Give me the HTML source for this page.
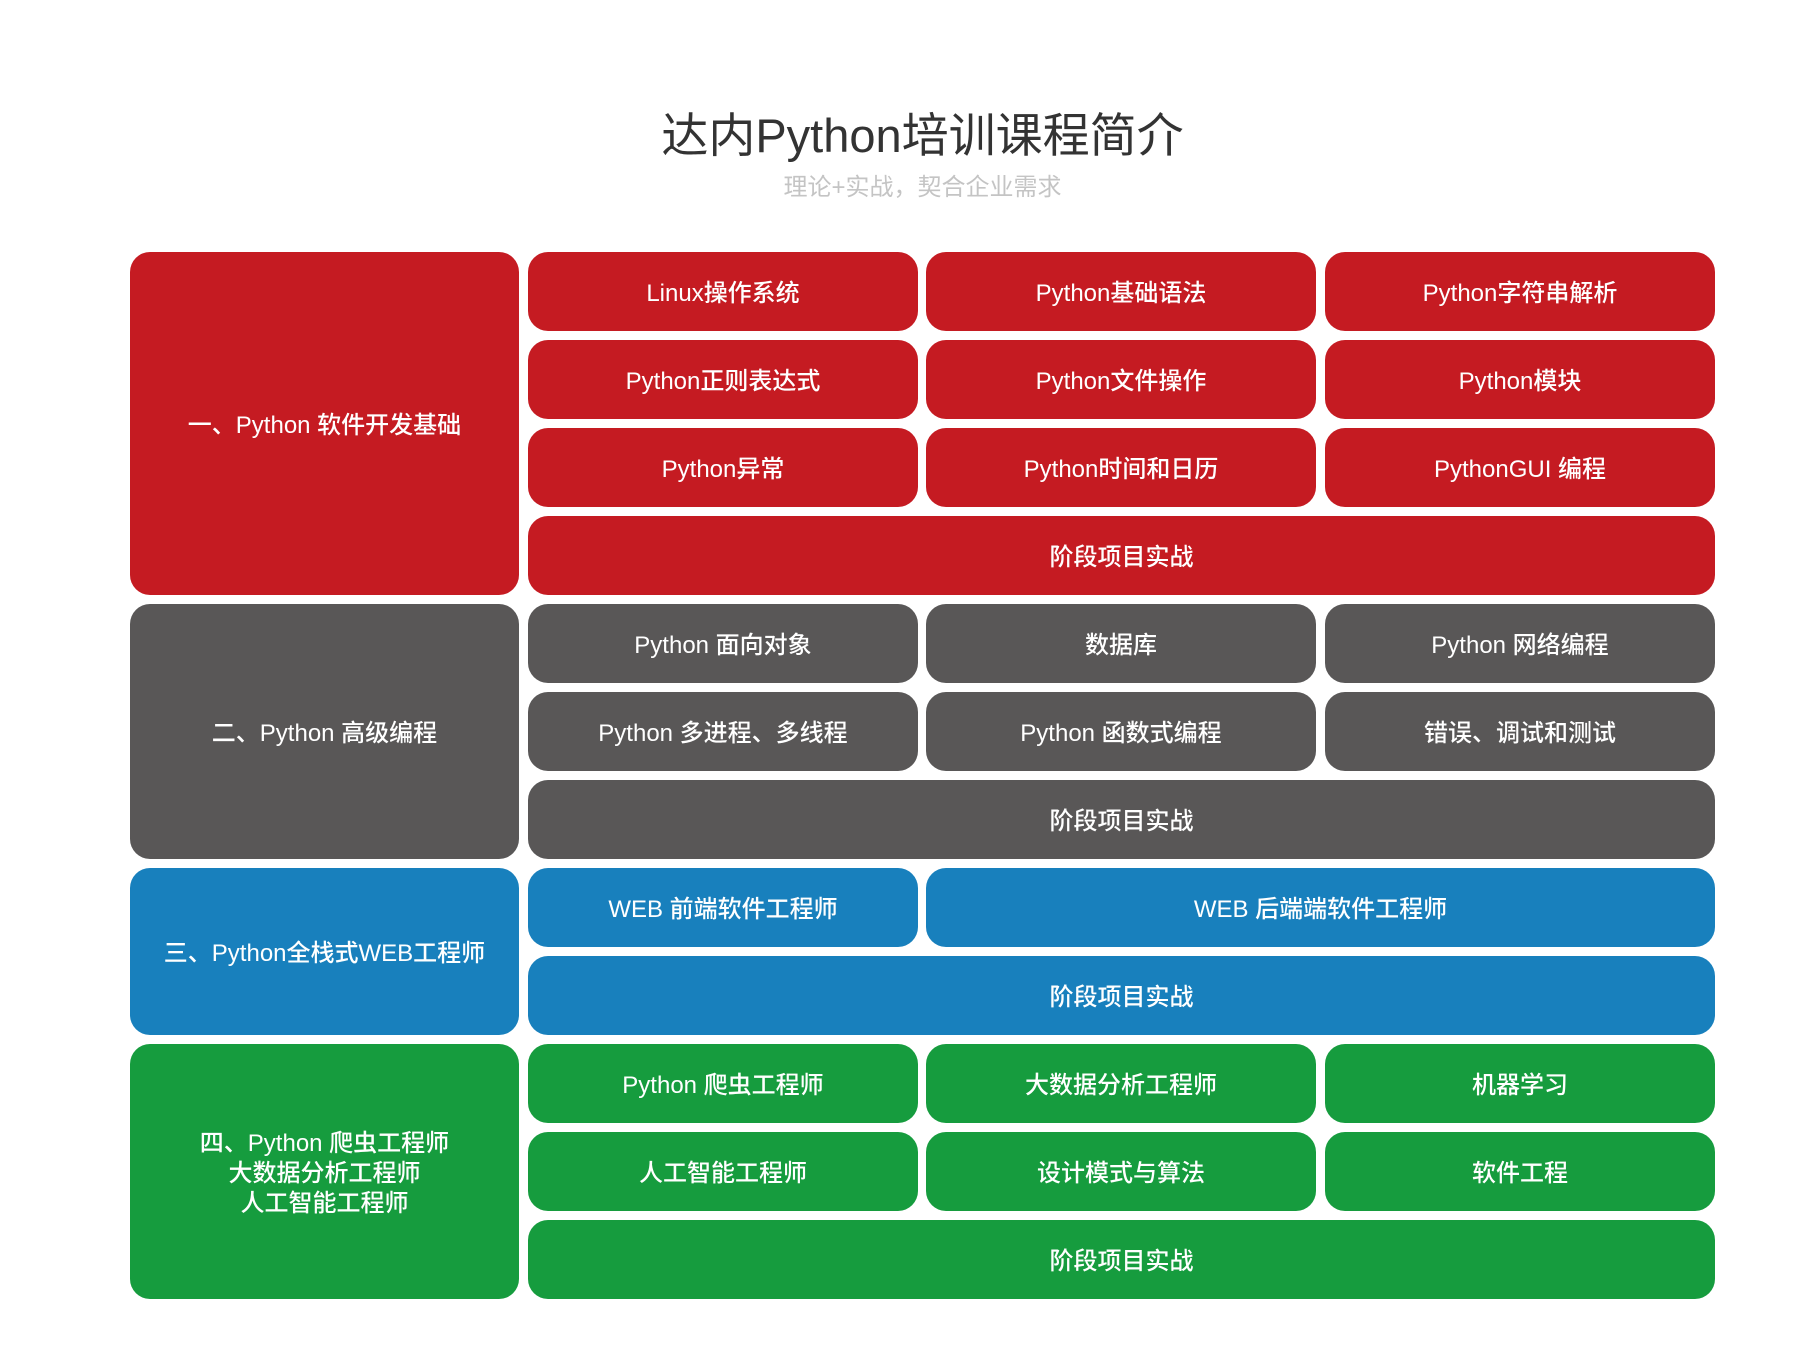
<!DOCTYPE html>
<html><head><meta charset="utf-8"><style>
body{margin:0;width:1820px;height:1362px;background:#fff;position:relative;overflow:hidden;font-family:"Liberation Sans","Noto Sans CJK SC",sans-serif;}
.t{position:absolute;left:0;width:1845px;text-align:center;}
.b{position:absolute;border-radius:20px;color:#fff;display:flex;align-items:center;justify-content:center;text-align:center;font-size:24px;font-weight:500;line-height:1.25;box-sizing:border-box;padding-top:5px;}
.r{background:#c51b22}.g{background:#595757}.u{background:#1880bd}.n{background:#169c3e}
</style></head><body>
<div class="t" style="top:103px;font-size:47px;color:#333;line-height:66px;">达内Python培训课程简介</div>
<div class="t" style="top:173px;font-size:24px;color:#c4c4c4;line-height:30px;">理论+实战，契合企业需求</div>

<div class="b r" style="left:130px;top:252px;width:389px;height:343px">一、Python 软件开发基础</div>
<div class="b r" style="left:528px;top:252px;width:390px;height:79px">Linux操作系统</div>
<div class="b r" style="left:926px;top:252px;width:390px;height:79px">Python基础语法</div>
<div class="b r" style="left:1325px;top:252px;width:390px;height:79px">Python字符串解析</div>
<div class="b r" style="left:528px;top:340px;width:390px;height:79px">Python正则表达式</div>
<div class="b r" style="left:926px;top:340px;width:390px;height:79px">Python文件操作</div>
<div class="b r" style="left:1325px;top:340px;width:390px;height:79px">Python模块</div>
<div class="b r" style="left:528px;top:428px;width:390px;height:79px">Python异常</div>
<div class="b r" style="left:926px;top:428px;width:390px;height:79px">Python时间和日历</div>
<div class="b r" style="left:1325px;top:428px;width:390px;height:79px">PythonGUI 编程</div>
<div class="b r" style="left:528px;top:516px;width:1187px;height:79px">阶段项目实战</div>

<div class="b g" style="left:130px;top:604px;width:389px;height:255px">二、Python 高级编程</div>
<div class="b g" style="left:528px;top:604px;width:390px;height:79px">Python 面向对象</div>
<div class="b g" style="left:926px;top:604px;width:390px;height:79px">数据库</div>
<div class="b g" style="left:1325px;top:604px;width:390px;height:79px">Python 网络编程</div>
<div class="b g" style="left:528px;top:692px;width:390px;height:79px">Python 多进程、多线程</div>
<div class="b g" style="left:926px;top:692px;width:390px;height:79px">Python 函数式编程</div>
<div class="b g" style="left:1325px;top:692px;width:390px;height:79px">错误、调试和测试</div>
<div class="b g" style="left:528px;top:780px;width:1187px;height:79px">阶段项目实战</div>

<div class="b u" style="left:130px;top:868px;width:389px;height:167px">三、Python全栈式WEB工程师</div>
<div class="b u" style="left:528px;top:868px;width:390px;height:79px">WEB 前端软件工程师</div>
<div class="b u" style="left:926px;top:868px;width:789px;height:79px">WEB 后端端软件工程师</div>
<div class="b u" style="left:528px;top:956px;width:1187px;height:79px">阶段项目实战</div>

<div class="b n" style="left:130px;top:1044px;width:389px;height:255px">四、Python 爬虫工程师<br>大数据分析工程师<br>人工智能工程师</div>
<div class="b n" style="left:528px;top:1044px;width:390px;height:79px">Python 爬虫工程师</div>
<div class="b n" style="left:926px;top:1044px;width:390px;height:79px">大数据分析工程师</div>
<div class="b n" style="left:1325px;top:1044px;width:390px;height:79px">机器学习</div>
<div class="b n" style="left:528px;top:1132px;width:390px;height:79px">人工智能工程师</div>
<div class="b n" style="left:926px;top:1132px;width:390px;height:79px">设计模式与算法</div>
<div class="b n" style="left:1325px;top:1132px;width:390px;height:79px">软件工程</div>
<div class="b n" style="left:528px;top:1220px;width:1187px;height:79px">阶段项目实战</div>
</body></html>
